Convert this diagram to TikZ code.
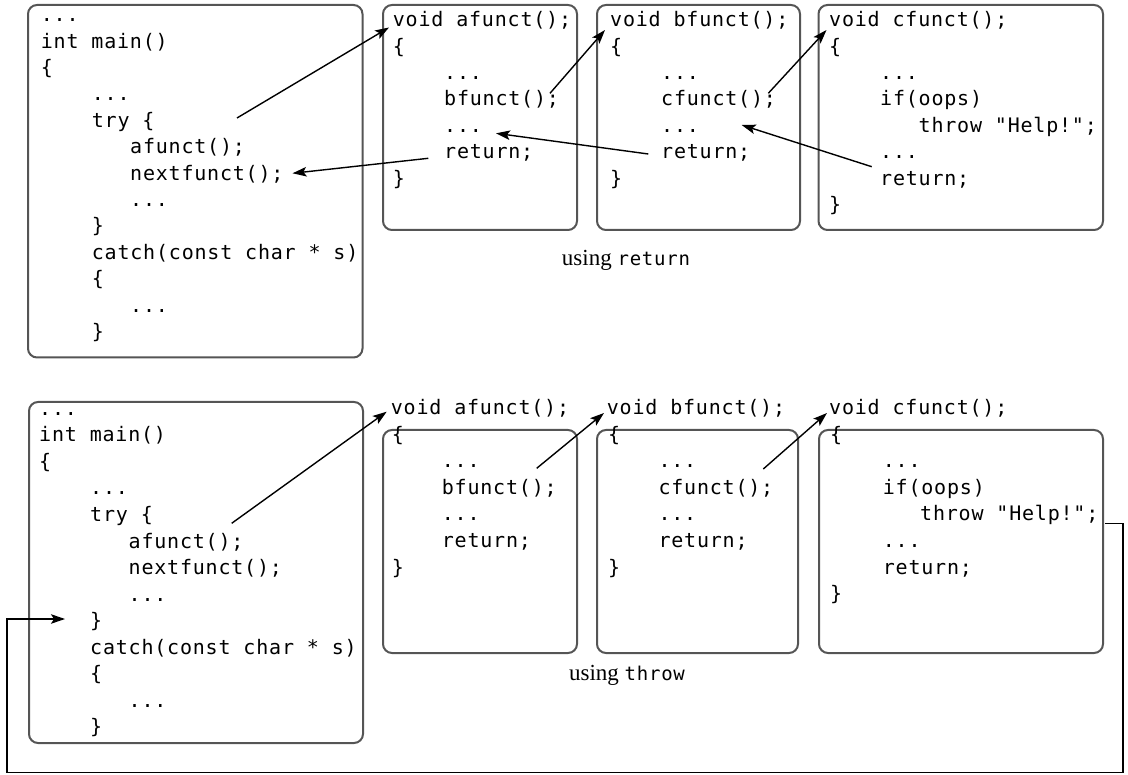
\documentclass[tikz,border=0pt]{standalone}
\usepackage{fontspec}
\setmainfont{Liberation Serif}
\newfontfamily\codefont[LetterSpace=4]{DejaVu Sans Mono}
\usetikzlibrary{arrows.meta,calc}
\definecolor{boxgray}{HTML}{555555}
\tikzset{
  code/.style={anchor=base west, inner sep=0pt, font=\codefont\fontsize{20}{23}\selectfont},
  box/.style={draw=boxgray, line width=2pt, rounded corners=9pt},
  arr/.style={-{Stealth[length=14pt,width=9.5pt,inset=3pt]}, line width=1.4pt, black},
  caption/.style={anchor=base, inner sep=0pt, font=\fontsize{23}{26}\selectfont}
}
\begin{document}
\begin{tikzpicture}[x=1pt,y=-1pt]
\useasboundingbox (0,0) rectangle (1128,775);
% ---------- boxes ----------
\node[box, minimum width=334.5pt, minimum height=352.5pt] (mainT) at (195.25,181.25) {};
\node[box, minimum width=194pt, minimum height=225pt] (aT) at (480,117.5) {};
\node[box, minimum width=203pt, minimum height=225pt] (bT) at (698.5,117.5) {};
\node[box, minimum width=284.5pt, minimum height=225pt] (cT) at (960.75,117.5) {};
\node[box, minimum width=334pt, minimum height=341pt] (mainB) at (196,572.5) {};
\node[box, minimum width=194pt, minimum height=223pt] (aB) at (480,541.5) {};
\node[box, minimum width=201pt, minimum height=223pt] (bB) at (697.5,541.5) {};
\node[box, minimum width=284pt, minimum height=223pt] (cB) at (961,541.5) {};
% ---------- top main ----------
\node[code] (tm0) at (40.7,21.7) {...};
\node[code] (tm1) at (40.7,48.1) {int main()};
\node[code] (tm2) at (40.7,74.5) {\{};
\node[code] (tm3) at (91.7,100.9) {...};
\node[code] (tm4) at (91.7,127.3) {try \{};
\node[code] (tm5) at (130,153.7) {afunct();};
\node[code] (tm6) at (130,180.1) {nextfunct();};
\node[code] (tm7) at (130,206.5) {...};
\node[code] (tm8) at (91.7,232.9) {\}};
\node[code] (tm9) at (91.7,259.3) {catch(const char * s)};
\node[code] (tm10) at (91.7,285.7) {\{};
\node[code] (tm11) at (130,312.1) {...};
\node[code] (tm12) at (91.7,338.5) {\}};
% ---------- top afunct ----------
\node[code] (ta0) at (392.7,26.7) {void afunct();};
\node[code] (ta1) at (392.7,53.1) {\{};
\node[code] (ta2) at (444,79.5) {...};
\node[code] (ta3) at (444,105.9) {bfunct();};
\node[code] (ta4) at (444,132.3) {...};
\node[code] (ta5) at (444,158.7) {return;};
\node[code] (ta6) at (392.7,185.1) {\}};
% ---------- top bfunct ----------
\node[code] (tb0) at (610,26.7) {void bfunct();};
\node[code] (tb1) at (610,53.1) {\{};
\node[code] (tb2) at (661,79.5) {...};
\node[code] (tb3) at (661,105.9) {cfunct();};
\node[code] (tb4) at (661,132.3) {...};
\node[code] (tb5) at (661,158.7) {return;};
\node[code] (tb6) at (610,185.1) {\}};
% ---------- top cfunct ----------
\node[code] (tc0) at (829,26.7) {void cfunct();};
\node[code] (tc1) at (829,53.1) {\{};
\node[code] (tc2) at (880,79.5) {...};
\node[code] (tc3) at (880,105.9) {if(oops)};
\node[code] (tc4) at (918.5,132.3) {throw "Help!";};
\node[code] (tc5) at (880,158.7) {...};
\node[code] (tc6) at (880,185.1) {return;};
\node[code] (tc7) at (829,211.5) {\}};
% ---------- bottom main ----------
\node[code] (bm0) at (39,415.5) {...};
\node[code] (bm1) at (39,442) {int main()};
\node[code] (bm2) at (39,468.5) {\{};
\node[code] (bm3) at (90,495) {...};
\node[code] (bm4) at (90,521.5) {try \{};
\node[code] (bm5) at (128.5,548) {afunct();};
\node[code] (bm6) at (128.5,574.5) {nextfunct();};
\node[code] (bm7) at (128.5,601) {...};
\node[code] (bm8) at (90,627.5) {\}};
\node[code] (bm9) at (90,654) {catch(const char * s)};
\node[code] (bm10) at (90,680.5) {\{};
\node[code] (bm11) at (128.5,707) {...};
\node[code] (bm12) at (90,733.5) {\}};
% ---------- bottom afunct ----------
\node[code] (ba0) at (390.7,415) {void afunct();};
\node[code] (ba1) at (391.7,441.5) {\{};
\node[code] (ba2) at (441.7,468) {...};
\node[code] (ba3) at (441.7,494.5) {bfunct();};
\node[code] (ba4) at (441.7,521) {...};
\node[code] (ba5) at (441.7,547.5) {return;};
\node[code] (ba6) at (391.7,574) {\}};
% ---------- bottom bfunct ----------
\node[code] (bb0) at (606.7,415) {void bfunct();};
\node[code] (bb1) at (608,441.5) {\{};
\node[code] (bb2) at (658.3,468) {...};
\node[code] (bb3) at (658.3,494.5) {cfunct();};
\node[code] (bb4) at (658.3,521) {...};
\node[code] (bb5) at (658.3,547.5) {return;};
\node[code] (bb6) at (608,574) {\}};
% ---------- bottom cfunct ----------
\node[code] (bc0) at (829,415) {void cfunct();};
\node[code] (bc1) at (830,441.5) {\{};
\node[code] (bc2) at (882.7,468) {...};
\node[code] (bc3) at (882.7,494.5) {if(oops)};
\node[code] (bc4) at (920,521) {throw "Help!";};
\node[code] (bc5) at (882.7,547.5) {...};
\node[code] (bc6) at (882.7,574) {return;};
\node[code] (bc7) at (830,600.5) {\}};
% ---------- captions ----------
\node[caption] (cap1) at (626,266) {using {\codefont\fontsize{19}{22}\selectfont return}};
\node[caption] (cap2) at (627,680) {using {\codefont\fontsize{19}{22}\selectfont throw}};
% ---------- arrow end points ----------
\coordinate (s1) at ($(tm5.base west)+(107,-35.7)$);
\coordinate (t1) at ($(ta0.base west)+(-3.7,0.8)$);
\coordinate (s2) at ($(ta5.base west)+(-15.7,-0.4)$);
\coordinate (t2) at ($(tm6.base west)+(162.5,-6.8)$);
\coordinate (s3) at ($(ta3.base west)+(106,-12.6)$);
\coordinate (t3) at ($(tb0.base west)+(-5,3.3)$);
\coordinate (s4) at ($(tb3.base west)+(107.3,-12.6)$);
\coordinate (t4) at ($(tc0.base west)+(-2.5,3.3)$);
\coordinate (s5) at ($(tb5.base west)+(-12.7,-4.7)$);
\coordinate (t5) at ($(ta4.base west)+(52,1)$);
\coordinate (s6) at ($(tc5.base west)+(-8.3,8)$);
\coordinate (t6) at ($(tb4.base west)+(80.7,-7.3)$);
\coordinate (s7) at ($(bm5.base west)+(103.2,-24.7)$);
\coordinate (t7) at ($(ba0.base west)+(-4,-3.3)$);
\coordinate (s8) at ($(ba3.base west)+(95,-26.2)$);
\coordinate (t8) at ($(bb0.base west)+(-2.7,-2)$);
\coordinate (s9) at ($(bb3.base west)+(105,-25.5)$);
\coordinate (t9) at ($(bc0.base west)+(-2,-2)$);
\coordinate (s10) at ($(bc4.base west)+(185,2.3)$);
\coordinate (t10) at ($(bm8.base west)+(-25,-8.5)$);
\coordinate (cR) at (1123,772.5);
\coordinate (cL) at (7,619);
% ---------- arrows ----------
\draw[arr] (s1) -- (t1);
\draw[arr] (s2) -- (t2);
\draw[arr] (s3) -- (t3);
\draw[arr] (s4) -- (t4);
\draw[arr] (s5) -- (t5);
\draw[arr] (s6) -- (t6);
\draw[arr] (s7) -- (t7);
\draw[arr] (s8) -- (t8);
\draw[arr] (s9) -- (t9);
\draw[arr] (s10) -| (cR) -| (cL) -- (t10);
\end{tikzpicture}
\end{document}
